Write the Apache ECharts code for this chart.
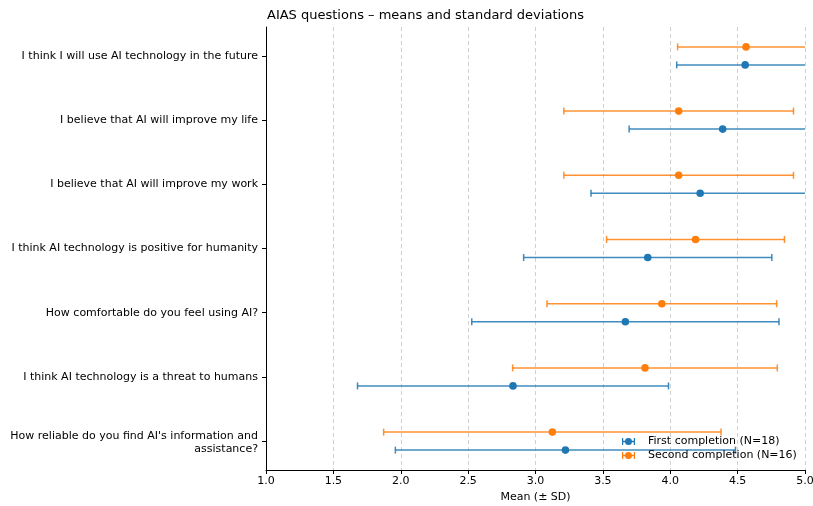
<!DOCTYPE html>
<html><head><meta charset="utf-8">
<script src="https://cdn.jsdelivr.net/npm/echarts@6/dist/echarts.min.js"></script>
<style>html,body{margin:0;padding:0;background:#fff;overflow:hidden}#c{width:813px;height:506px}</style>
</head><body><div id="c"></div>
<script>
const categories = [
  "I think I will use AI technology in the future",
  "I believe that AI will improve my life",
  "I believe that AI will improve my work",
  "I think AI technology is positive for humanity",
  "How comfortable do you feel using AI?",
  "I think AI technology is a threat to humans",
  "How reliable do you find AI's information and\nassistance?"
];
const firstMeans = [4.556, 4.389, 4.222, 3.833, 3.667, 2.833, 3.222];
const firstSD    = [0.508, 0.694, 0.810, 0.921, 1.140, 1.154, 1.262];
const secondMeans = [4.5625, 4.0625, 4.0625, 4.1875, 3.9375, 3.8125, 3.125];
const secondSD    = [0.508, 0.852, 0.852, 0.660, 0.852, 0.982, 1.252];
const xTicks = [1.0, 1.5, 2.0, 2.5, 3.0, 3.5, 4.0, 4.5, 5.0];

const BLUE = '#1f77b4', ORANGE = '#ff7f0e';
const FONT = 'DejaVu Sans';

function makeRender(color, offPx) {
  return function (params, api) {
    const m = api.value(0), sd = api.value(1), idx = api.value(2);
    const c = api.coord([m, idx]);
    const l = api.coord([m - sd, idx]);
    const r = api.coord([m + sd, idx]);
    const y = c[1] + offPx;
    const cs = params.coordSys;
    const x0 = cs.x, x1 = cs.x + cs.width;
    const lx = Math.max(l[0], x0), rx = Math.min(r[0], x1);
    const st = {stroke: color, lineWidth: 1.5, opacity: 0.85};
    const children = [
      {type: 'line', shape: {x1: lx, y1: y, x2: rx, y2: y}, style: st}
    ];
    if (l[0] >= x0) children.push({type: 'line', shape: {x1: l[0], y1: y - 3.5, x2: l[0], y2: y + 3.5}, style: st});
    if (r[0] <= x1) children.push({type: 'line', shape: {x1: r[0], y1: y - 3.5, x2: r[0], y2: y + 3.5}, style: st});
    children.push({type: 'circle', shape: {cx: c[0], cy: y, r: 3.8}, style: {fill: color}});
    return {type: 'group', children: children};
  };
}

const firstData = firstMeans.map((m, i) => [m, firstSD[i], i]);
const secondData = secondMeans.map((m, i) => [m, secondSD[i], i]);

const icon = 'path://M0,0.5h1.2v7h-1.2z M11.8,0.5h1.2v7h-1.2z M0,3.3h13v1.4h-13z M6.5,0.5a3.5,3.5 0 1,1 -0.001,0z';

const chart = echarts.init(document.getElementById('c'), null, {renderer: 'canvas'});
chart.setOption({
  animation: false,
  textStyle: {fontFamily: FONT},
  title: {
    text: 'AIAS questions – means and standard deviations',
    left: 262, top: 4,
    textStyle: {fontFamily: FONT, fontSize: 13, fontWeight: 'normal', color: '#000'}
  },
  grid: {left: 266, right: 8, top: 27, bottom: 36, containLabel: false, outerBoundsMode: 'none'},
  legend: {
    orient: 'vertical', left: 617, top: 431, itemGap: 3,
    itemWidth: 13, itemHeight: 8,
    textStyle: {fontFamily: FONT, fontSize: 11, color: '#000', padding: [0, 0, 0, 8]},
    data: [
      {name: 'First completion (N=18)', icon: icon, itemStyle: {color: BLUE}},
      {name: 'Second completion (N=16)', icon: icon, itemStyle: {color: ORANGE}}
    ]
  },
  xAxis: {
    type: 'value', min: 1, max: 5, interval: 0.5,
    name: 'Mean (± SD)', nameLocation: 'middle', nameGap: 22,
    nameTextStyle: {fontFamily: FONT, fontSize: 11, color: '#000'},
    axisLine: {show: true, onZero: false, lineStyle: {color: '#000', width: 1}},
    axisTick: {show: true, length: 4, lineStyle: {color: '#000'}},
    axisLabel: {fontFamily: FONT, fontSize: 11, color: '#000', margin: 6,
      formatter: v => v.toFixed(1), showMaxLabel: true, showMinLabel: true},
    splitLine: {show: true, lineStyle: {color: '#d0d0d0', type: [4, 3], width: 1}}
  },
  yAxis: {
    type: 'value', min: -0.45, max: 6.45, inverse: true,
    axisLine: {show: true, onZero: false, lineStyle: {color: '#000', width: 1}},
    axisTick: {show: true, length: 4, lineStyle: {color: '#000'}, customValues: categories.map((_, i) => i)},
    axisLabel: {fontFamily: FONT, fontSize: 11, color: '#000', margin: 8, align: 'right', lineHeight: 13,
      customValues: categories.map((_, i) => i),
      formatter: v => {
        const s = categories[Math.round(v)] || '';
        return s.indexOf('\n') >= 0 ? '{m|' + s.split('\n').join('}\n{m|') + '}' : s;
      },
      rich: {m: {fontFamily: FONT, fontSize: 11, color: '#000', lineHeight: 13, align: 'right', padding: [4, 0, 0, 0]}}
    },
    splitLine: {show: false}
  },
  series: [
    {name: 'First completion (N=18)', type: 'custom', clip: true, itemStyle: {color: BLUE},
      encode: {x: 0, y: 2}, renderItem: makeRender(BLUE, 9), data: firstData, z: 2},
    {name: 'Second completion (N=16)', type: 'custom', clip: true, itemStyle: {color: ORANGE},
      encode: {x: 0, y: 2}, renderItem: makeRender(ORANGE, -9), data: secondData, z: 3}
  ]
});
</script></body></html>
